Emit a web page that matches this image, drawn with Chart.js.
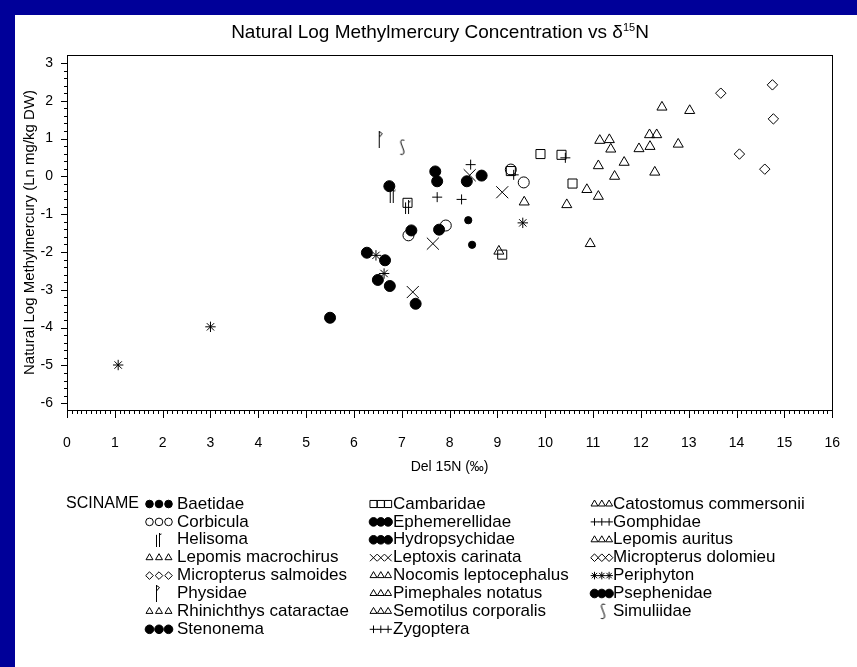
<!DOCTYPE html>
<html>
<head>
<meta charset="utf-8">
<script src="https://cdn.jsdelivr.net/npm/chart.js@4/dist/chart.umd.min.js"></script>
<style>
  html, body { margin: 0; padding: 0; background: #000099; }
  #chart { display: block; }
</style>
</head>
<body>
<canvas id="chart" width="857" height="667"></canvas>
<script>
// Natural log MeHg vs d15N, one [d15N, lnMeHg] list per taxon
const speciesNames = [
  "Baetidae", "Cambaridae", "Catostomus commersonii",
  "Corbicula", "Ephemerellidae", "Gomphidae",
  "Helisoma", "Hydropsychidae", "Lepomis auritus",
  "Lepomis macrochirus", "Leptoxis carinata", "Micropterus dolomieu",
  "Micropterus salmoides", "Nocomis leptocephalus", "Periphyton",
  "Physidae", "Pimephales notatus", "Psephenidae",
  "Rhinichthys cataractae", "Semotilus corporalis", "Simuliidae",
  "Stenonema", "Zygoptera"
];

const baetidae = [[8.39, -1.16], [8.47, -1.81]];
const cambaridae = [[7.12, -0.70], [9.10, -2.07], [9.28, 0.14], [9.90, 0.59], [10.34, 0.57], [10.57, -0.19]];
const catostomus = [[12.44, 1.83], [13.02, 1.74]];
const corbicula = [[7.14, -1.56], [7.92, -1.30], [9.28, 0.18], [9.55, -0.16]];
const ephemerellidae = [[7.70, 0.13], [7.74, -0.13]];
const gomphidae = [[8.44, 0.31], [9.34, 0.04], [10.42, 0.49]];
const helisoma = [[6.79, -0.53], [7.11, -0.82]];
const hydropsychidae = [[8.36, -0.13], [8.67, 0.02], [6.74, -0.26]];
const lepomisAuritus = [[11.14, 0.95], [11.34, 0.97], [11.96, 0.73], [12.29, 0.11]];
const lepomisMacrochirus = [[12.19, 0.79], [12.18, 1.10], [12.33, 1.10], [12.78, 0.85]];
const leptoxis = [[7.65, -1.78], [7.23, -3.06], [9.10, -0.42], [8.42, 0.03]];
const micropterusDolomieu = [[13.67, 2.20], [14.75, 2.42], [14.77, 1.52]];
const micropterusSalmoides = [[14.06, 0.59], [14.59, 0.19]];
const nocomis = [[10.45, -0.75], [10.87, -0.35], [11.11, -0.53]];
const periphyton = [[1.07, -4.99], [3.00, -3.98], [6.46, -2.09], [6.63, -2.57], [9.53, -1.23]];
const physidae = [[6.56, 0.97]];
const pimephales = [[11.37, 0.72], [11.65, 0.37]];
const psephenidae = [[5.50, -3.74], [7.20, -1.43], [7.78, -1.41]];
const rhinichthys = [[9.03, -1.98], [9.56, -0.68]];
const semotilus = [[10.94, -1.78], [11.11, 0.28], [11.45, 0.00]];
const simuliidae = [[7.01, 0.77]];
const stenonema = [[6.27, -2.02], [6.65, -2.22], [6.50, -2.74], [6.75, -2.90], [7.29, -3.37]];
const zygoptera = [[7.74, -0.55], [8.25, -0.61]];

const xTicks = [0, 1, 2, 3, 4, 5, 6, 7, 8, 9, 10, 11, 12, 13, 14, 15, 16];
const yTicks = [-6, -5, -4, -3, -2, -1, 0, 1, 2, 3];

const speciesData = [
  baetidae, cambaridae, catostomus, corbicula, ephemerellidae, gomphidae,
  helisoma, hydropsychidae, lepomisAuritus, lepomisMacrochirus, leptoxis,
  micropterusDolomieu, micropterusSalmoides, nocomis, periphyton, physidae,
  pimephales, psephenidae, rhinichthys, semotilus, simuliidae, stenonema, zygoptera
];

// ---- custom SAS-like glyphs (font symbols) ----
function glyphCanvas(w, h, draw) {
  const c = document.createElement("canvas");
  c.width = w; c.height = h;
  const g = c.getContext("2d");
  g.strokeStyle = "#000";
  g.lineWidth = 1;
  g.beginPath();
  draw(g);
  g.stroke();
  return c;
}
const helisomaGlyph = glyphCanvas(8, 14, (g) => {
  g.moveTo(2.5, 2); g.lineTo(2.5, 14);
  g.moveTo(5.5, 0); g.lineTo(5.5, 14);
  g.moveTo(5.5, 2); g.lineTo(7.5, 1);
});
const physidaeGlyph = glyphCanvas(6, 17, (g) => {
  g.moveTo(1.5, 0); g.lineTo(1.5, 17);
  g.moveTo(1.5, 0.5); g.lineTo(4.5, 2.5); g.lineTo(1.5, 6);
});
const simuliidaeGlyph = glyphCanvas(7, 17, (g) => {
  g.moveTo(5.5, 1.5);
  g.quadraticCurveTo(1.5, 0, 2, 4);
  g.lineTo(5, 12);
  g.quadraticCurveTo(5.8, 16.5, 1.5, 15.5);
});

const DOT = { pointStyle: "circle", radius: 5.5, fill: true, lr: 4.3 };
const TRI = { pointStyle: "triangle", radius: 5.8, fill: false, lr: 4 };
const styles = {
  "Baetidae": { pointStyle: "circle", radius: 3.6, fill: true, lr: 3.8 },
  "Cambaridae": { pointStyle: "rect", radius: 6.4, fill: false, lr: 5 },
  "Catostomus commersonii": TRI,
  "Corbicula": { pointStyle: "circle", radius: 5.5, fill: false, lr: 3.8 },
  "Ephemerellidae": DOT,
  "Gomphidae": { pointStyle: "cross", radius: 5, fill: false, lr: 3.8 },
  "Helisoma": { pointStyle: helisomaGlyph, radius: 7, fill: false, glyph: true },
  "Hydropsychidae": DOT,
  "Lepomis auritus": TRI,
  "Lepomis macrochirus": TRI,
  "Leptoxis carinata": { pointStyle: "crossRot", radius: 8.5, fill: false, lr: 5 },
  "Micropterus dolomieu": { pointStyle: "rectRot", radius: 5.2, fill: false, lr: 3.8 },
  "Micropterus salmoides": { pointStyle: "rectRot", radius: 5.2, fill: false, lr: 3.8 },
  "Nocomis leptocephalus": TRI,
  "Periphyton": { pointStyle: "star", radius: 5.2, fill: false, lr: 3.8 },
  "Physidae": { pointStyle: physidaeGlyph, radius: 8, fill: false, glyph: true },
  "Pimephales notatus": TRI,
  "Psephenidae": DOT,
  "Rhinichthys cataractae": TRI,
  "Semotilus corporalis": TRI,
  "Simuliidae": { pointStyle: simuliidaeGlyph, radius: 8, fill: false, glyph: true },
  "Stenonema": DOT,
  "Zygoptera": { pointStyle: "cross", radius: 5, fill: false, lr: 3.8 }
};

const FONT = "'Liberation Sans', Arial, Helvetica, sans-serif";

const datasets = speciesNames.map((name, i) => {
  const st = styles[name];
  return {
    label: name,
    data: speciesData[i].map((p) => ({ x: p[0], y: p[1] })),
    pointStyle: st.pointStyle,
    pointRadius: st.radius,
    pointHoverRadius: st.radius,
    borderColor: "#000",
    backgroundColor: st.fill ? "#000" : "rgba(0,0,0,0)",
    borderWidth: 1,
    showLine: false
  };
});

// blue slide frame + white panel
const backgroundPlugin = {
  id: "slideBackground",
  beforeDraw(chart) {
    const ctx = chart.ctx;
    ctx.save();
    ctx.fillStyle = "#000099";
    ctx.fillRect(0, 0, chart.width, chart.height);
    ctx.fillStyle = "#ffffff";
    ctx.fillRect(15, 15, chart.width - 15, chart.height - 15);
    ctx.restore();
  }
};

// title with superscript 15
const titlePlugin = {
  id: "supTitle",
  afterDraw(chart) {
    const ctx = chart.ctx;
    const main = "Natural Log Methylmercury Concentration vs \u03b4";
    const sup = "15";
    const tail = "N";
    ctx.save();
    ctx.fillStyle = "#000";
    ctx.textBaseline = "alphabetic";
    ctx.font = "19px " + FONT;
    const w1 = ctx.measureText(main).width;
    const w3 = ctx.measureText(tail).width;
    ctx.font = "11px " + FONT;
    const w2 = ctx.measureText(sup).width;
    const total = w1 + w2 + w3;
    let x = 440 - total / 2;
    const base = 38;
    ctx.font = "19px " + FONT;
    ctx.fillText(main, x, base);
    x += w1;
    ctx.font = "11px " + FONT;
    ctx.fillText(sup, x, base - 7);
    x += w2;
    ctx.font = "19px " + FONT;
    ctx.fillText(tail, x, base);
    ctx.restore();
  }
};

// frame box and major/minor tick marks
const framePlugin = {
  id: "frameTicks",
  afterDraw(chart) {
    const { ctx, chartArea: a } = chart;
    const xs = chart.scales.x, ys = chart.scales.y;
    ctx.save();
    ctx.strokeStyle = "#000";
    ctx.lineWidth = 1;
    ctx.strokeRect(Math.round(a.left) + 0.5, Math.round(a.top) + 0.5,
      Math.round(a.right - a.left), Math.round(a.bottom - a.top));
    ctx.beginPath();
    const xMinor = 9, yMinor = 4;
    for (let i = 0; i < xTicks.length; i++) {
      const px = Math.round(xs.getPixelForValue(xTicks[i])) + 0.5;
      ctx.moveTo(px, a.bottom); ctx.lineTo(px, a.bottom + 8);
      if (i < xTicks.length - 1) {
        const step = (xTicks[i + 1] - xTicks[i]) / (xMinor + 1);
        for (let k = 1; k <= xMinor; k++) {
          const mx = Math.round(xs.getPixelForValue(xTicks[i] + k * step)) + 0.5;
          ctx.moveTo(mx, a.bottom); ctx.lineTo(mx, a.bottom + 4);
        }
      }
    }
    for (let i = 0; i < yTicks.length; i++) {
      const py = Math.round(ys.getPixelForValue(yTicks[i])) + 0.5;
      ctx.moveTo(a.left, py); ctx.lineTo(a.left - 6, py);
      if (i < yTicks.length - 1) {
        const step = (yTicks[i + 1] - yTicks[i]) / (yMinor + 1);
        for (let k = 1; k <= yMinor; k++) {
          const my = Math.round(ys.getPixelForValue(yTicks[i] + k * step)) + 0.5;
          ctx.moveTo(a.left, my); ctx.lineTo(a.left - 3, my);
        }
      }
    }
    ctx.stroke();
    ctx.restore();
  }
};

// SAS style legend: "SCINAME" label, 3 columns filled row by row
const legendCols = [
  { sym: 146, gap: 9.5, text: 177 },
  { sym: 370, gap: 7.3, text: 393 },
  { sym: 591, gap: 7.3, text: 613 }
];
const legendPlugin = {
  id: "sasLegend",
  afterDraw(chart) {
    const ctx = chart.ctx;
    const top = 504, step = 17.9;
    ctx.save();
    ctx.fillStyle = "#000";
    ctx.textBaseline = "middle";
    ctx.textAlign = "left";
    ctx.font = "16px " + FONT;
    ctx.fillText("SCINAME", 66, top);
    ctx.font = "17px " + FONT;
    speciesNames.forEach((name, i) => {
      const c = legendCols[i % 3];
      const y = top + Math.floor(i / 3) * step;
      const st = styles[name];
      ctx.strokeStyle = "#000";
      ctx.lineWidth = 1;
      if (st.glyph) {
        Chart.helpers.drawPoint(ctx, { pointStyle: st.pointStyle, radius: 7, rotation: 0, borderWidth: 0 }, c.sym + 12, y);
      } else {
        ctx.fillStyle = st.fill ? "#000" : "rgba(0,0,0,0)";
        for (let k = 0; k < 3; k++) {
          Chart.helpers.drawPoint(ctx, { pointStyle: st.pointStyle, radius: st.lr, rotation: 0, borderWidth: 1 }, c.sym + 3.5 + k * c.gap, y);
        }
      }
      ctx.fillStyle = "#000";
      ctx.fillText(name, c.text, y);
    });
    ctx.restore();
  }
};

const tickFont = { family: FONT, size: 14 };

new Chart(document.getElementById("chart"), {
  type: "scatter",
  data: { datasets },
  options: {
    responsive: false,
    devicePixelRatio: 1,
    animation: false,
    events: [],
    layout: { padding: { left: 15, right: 15, top: 55, bottom: 187 } },
    plugins: {
      legend: { display: false },
      tooltip: { enabled: false },
      title: { display: false }
    },
    scales: {
      x: {
        type: "linear",
        min: 0,
        max: 16,
        afterBuildTicks: (s) => { s.ticks = xTicks.map((v) => ({ value: v })); },
        afterFit: (s) => { s.height = 70; },
        grid: { display: false },
        border: { display: true, color: "#000" },
        ticks: { color: "#000", font: tickFont, padding: 17, autoSkip: false, maxRotation: 0 },
        title: { display: true, text: "Del 15N (\u2030)", color: "#000", font: tickFont, padding: { top: 0, bottom: 4 } }
      },
      y: {
        type: "linear",
        min: -6.18,
        max: 3.21,
        afterBuildTicks: (s) => { s.ticks = yTicks.map((v) => ({ value: v })); },
        afterFit: (s) => { s.width = 52; },
        grid: { display: false },
        border: { display: true, color: "#000" },
        ticks: { color: "#000", font: tickFont, padding: 6, autoSkip: false },
        title: { display: true, text: "Natural Log Methylmercury (Ln mg/kg DW)", color: "#000", font: { family: FONT, size: 15 }, padding: { top: 6, bottom: 0 } }
      }
    }
  },
  plugins: [backgroundPlugin, titlePlugin, framePlugin, legendPlugin]
});
</script>
</body>
</html>
